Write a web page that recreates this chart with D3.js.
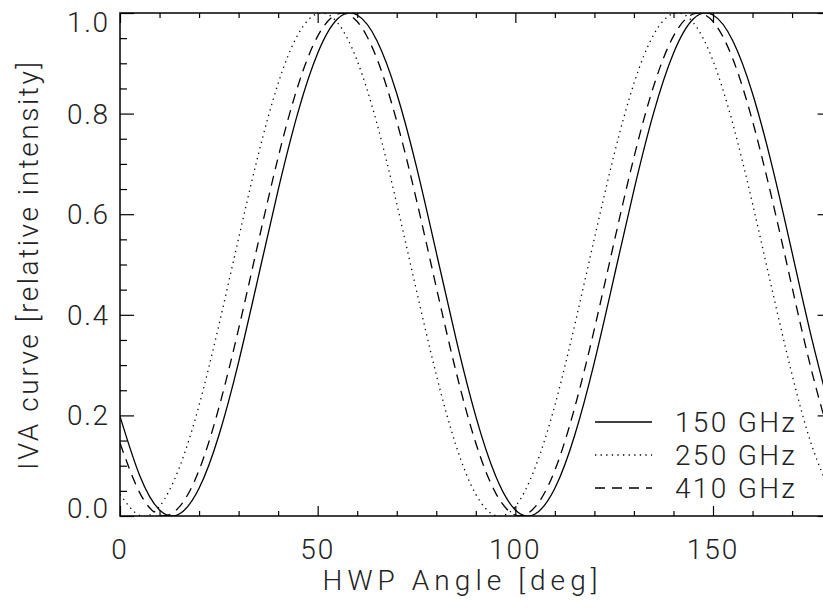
<!DOCTYPE html>
<html><head><meta charset="utf-8">
<script src="https://cdn.jsdelivr.net/npm/d3@7"></script>
<style>
html,body{margin:0;padding:0;background:#fff;overflow:hidden}
text{font-family:Roboto,"DejaVu Sans",sans-serif;font-weight:300;fill:#222}
</style>
</head><body>
<svg id="c" width="823" height="608"></svg>
<script>
// ---- data ----
const angles = [0,5,10,15,20,25,30,35,40,45,50,55,60,65,70,75,80,85,90,95,100,105,110,115,120,125,130,135,140,145,150,155,160,165,170,175,180];
const iva150 = [0.198,0.080,0.012,0.004,0.055,0.160,0.306,0.476,0.648,0.802,0.920,0.988,0.996,0.945,0.840,0.694,0.524,0.352,
                0.198,0.080,0.012,0.004,0.055,0.160,0.306,0.476,0.648,0.802,0.920,0.988,0.996,0.945,0.840,0.694,0.524,0.352,0.198];
const iva250 = [0.043,0.001,0.019,0.096,0.220,0.379,0.552,0.719,0.860,0.957,0.999,0.981,0.905,0.780,0.621,0.448,0.281,0.140,
                0.043,0.001,0.019,0.096,0.220,0.379,0.552,0.719,0.860,0.957,0.999,0.981,0.905,0.780,0.621,0.448,0.281,0.140,0.043];
const iva410 = [0.145,0.046,0.002,0.018,0.091,0.215,0.372,0.545,0.713,0.855,0.954,0.998,0.983,0.909,0.785,0.628,0.455,0.287,
                0.145,0.046,0.002,0.018,0.091,0.215,0.372,0.545,0.713,0.855,0.954,0.998,0.983,0.909,0.785,0.628,0.455,0.287,0.145];
const seriesNames = ["150 GHz","250 GHz","410 GHz"];
const xMajorTicks = [0,50,100,150];
const xMinorTicks = [10,20,30,40,60,70,80,90,110,120,130,140,160,170,180];
const xTickLabels = ["0","50","100","150"];
const yMajorTicks = [0,0.2,0.4,0.6,0.8,1.0];
const yMinorTicks = [0.05,0.1,0.15,0.25,0.3,0.35,0.45,0.5,0.55,0.65,0.7,0.75,0.85,0.9,0.95];
const yTickLabels = ["0.0","0.2","0.4","0.6","0.8","1.0"];
const xTitle = "HWP Angle [deg]";
const yTitle = "IVA curve [relative intensity]";

// ---- layout ----
const L = 120, R = 831.6, T = 13, B = 516;
const svg = d3.select("#c");
svg.append("rect").attr("width",823).attr("height",608).attr("fill","#fff");

const x = d3.scaleLinear().domain([0,180]).range([L,R]);
const y = d3.scaleLinear().domain([0,1]).range([B,T]);

svg.append("clipPath").attr("id","clip").append("rect")
  .attr("x",L).attr("y",T).attr("width",R-L).attr("height",B-T);

// curves
const series = [
  {vals: iva150, dash: null},
  {vals: iva250, dash: "1.3,4.3"},
  {vals: iva410, dash: "10,7"}
];
const line = d3.line().x(d=>x(d[0])).y(d=>y(d[1])).curve(d3.curveNatural);
const gc = svg.append("g").attr("clip-path","url(#clip)");
series.forEach(s=>{
  gc.append("path").datum(angles.map((a,i)=>[a,s.vals[i]]))
    .attr("d",line).attr("fill","none").attr("stroke","#000")
    .attr("stroke-width",1.3).attr("stroke-dasharray",s.dash);
});

// axes (ticks)
function ax(gen, tr, vals, size){
  const g = svg.append("g").attr("transform",tr).style("color","#000")
    .call(gen.tickValues(vals).tickSize(size).tickFormat(""));
  g.select(".domain").remove();
  g.selectAll("line").attr("stroke-width",1.2);
}
ax(d3.axisTop(x), `translate(0,${B})`, xMajorTicks, 10);
ax(d3.axisTop(x), `translate(0,${B})`, xMinorTicks, 5);
ax(d3.axisBottom(x), `translate(0,${T})`, xMajorTicks, 10);
ax(d3.axisBottom(x), `translate(0,${T})`, xMinorTicks, 5);
ax(d3.axisRight(y), `translate(${L},0)`, yMajorTicks, 14);
ax(d3.axisRight(y), `translate(${L},0)`, yMinorTicks, 7);
ax(d3.axisLeft(y), `translate(${R},0)`, yMajorTicks, 14);
ax(d3.axisLeft(y), `translate(${R},0)`, yMinorTicks, 7);

// frame
svg.append("rect").attr("x",L).attr("y",T).attr("width",R-L).attr("height",B-T)
  .attr("fill","none").attr("stroke","#000").attr("stroke-width",1.5);

// tick labels
svg.selectAll(".xl").data(xMajorTicks).enter().append("text")
  .attr("x",d=>x(d)).attr("y",559).attr("text-anchor","middle")
  .attr("font-size",28).attr("letter-spacing",2).text((d,i)=>xTickLabels[i]);
svg.selectAll(".yl").data(yMajorTicks).enter().append("text")
  .attr("x",108).attr("y",d=>Math.min(Math.max(y(d),22),508)+10)
  .attr("text-anchor","end").attr("font-size",28).attr("textLength",41)
  .attr("lengthAdjust","spacing").text((d,i)=>yTickLabels[i]);

// titles
svg.append("text").attr("x",460).attr("y",590).attr("text-anchor","middle")
  .attr("font-size",28).attr("textLength",275).attr("lengthAdjust","spacing").text(xTitle);
svg.append("text").attr("transform","translate(38,266) rotate(-90)").attr("text-anchor","middle")
  .attr("font-size",28).attr("textLength",408).attr("lengthAdjust","spacing").text(yTitle);

// legend
const legY = [422,455,488];
series.forEach((s,i)=>{
  svg.append("line").attr("x1",595).attr("x2",652).attr("y1",legY[i]).attr("y2",legY[i])
    .attr("stroke","#000").attr("stroke-width",1.3).attr("stroke-dasharray",s.dash);
  svg.append("text").attr("x",675).attr("y",legY[i]+10).attr("font-size",28)
    .attr("textLength",120).attr("lengthAdjust","spacing").text(seriesNames[i]);
});
</script>
</body></html>
